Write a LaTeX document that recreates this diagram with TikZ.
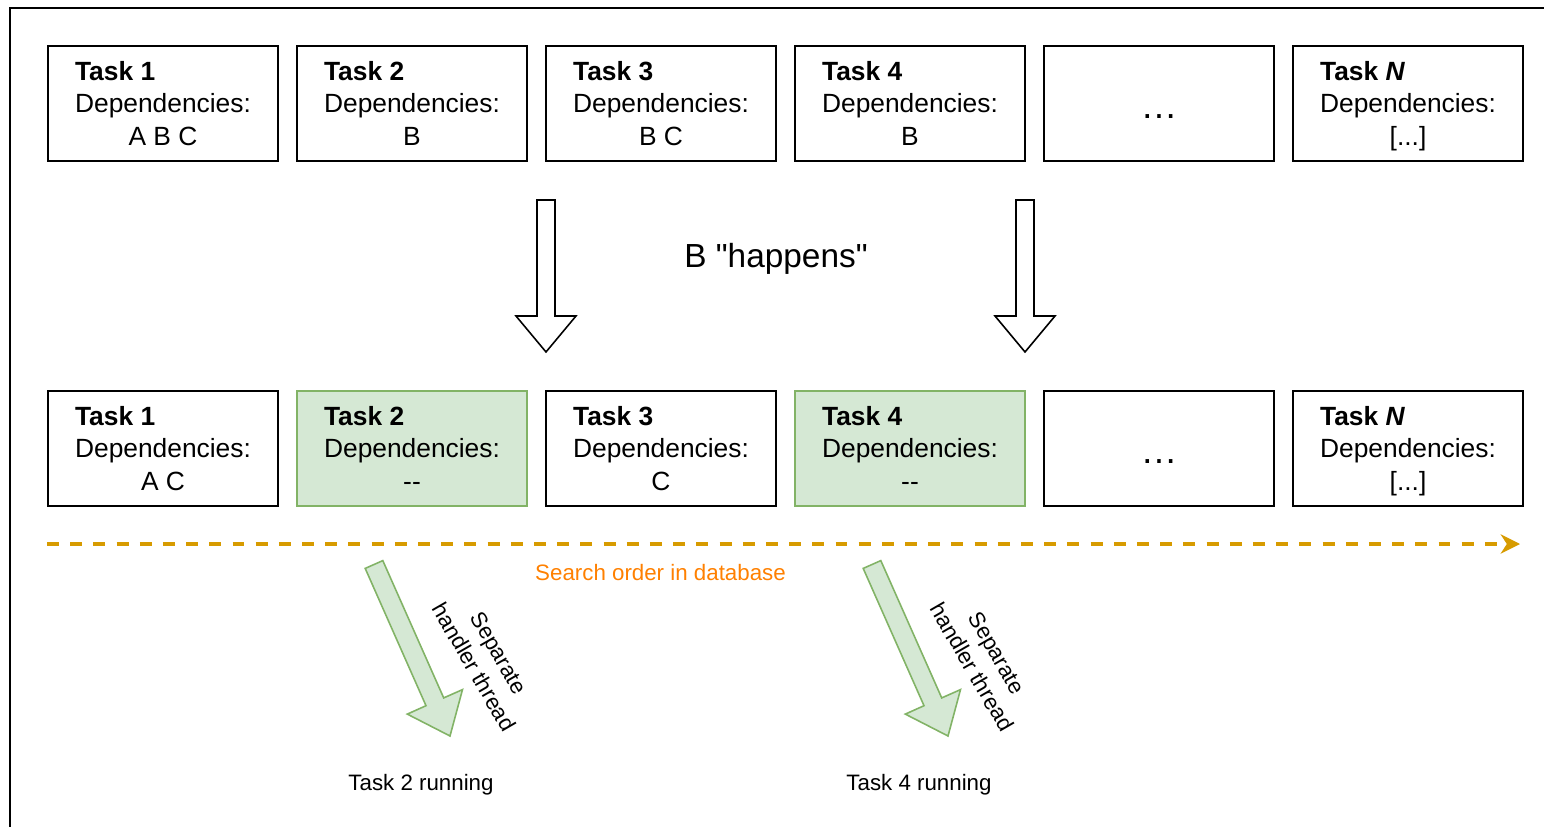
\documentclass[tikz,border=0pt]{standalone}
\usepackage{fontspec}
\setmainfont{Liberation Sans}
\usepackage{tikz}
\usetikzlibrary{arrows.meta, positioning}

\definecolor{greenfill}{HTML}{D5E8D4}
\definecolor{greenline}{HTML}{82B366}
\definecolor{searchline}{HTML}{D79B00}
\definecolor{searchtext}{HTML}{FF8000}

% three lines of a task box: name, label, centred dependency list
\newcommand{\TaskText}[2]{\raisebox{-1.7pt}[\height][\depth]{\begin{tabular}{@{}l@{}}\textbf{Task #1}\\Dependencies:\\\multicolumn{1}{@{}c@{}}{#2}\end{tabular}}}

\tikzset{
	task/.style={draw, line width=0.9pt, minimum width=4.6cm, minimum height=2.3cm, inner sep=0pt, font=\fontsize{15}{18.4}\selectfont},
	ready/.style={task, fill=greenfill, draw=greenline},
	more/.style={task, font=\fontsize{21}{25}\selectfont, text height=17pt, text depth=0pt},
	small/.style={font=\fontsize{12.7}{16.3}\selectfont},
}

\begin{document}
\begin{tikzpicture}[x=0.02cm, y=-0.02cm]
				\useasboundingbox (0,0) rectangle (1544,827);
				\draw[line width=0.9pt] (1544,8) -- (10,8) -- (10,827);
				
				\node[task] (T1) at (163,103.5) {\TaskText{1}{A B C}};
				\node[task] (T2) at (412,103.5) {\TaskText{2}{B}};
				\node[task] (T3) at (661,103.5) {\TaskText{3}{B C}};
				\node[task] (T4) at (910,103.5) {\TaskText{4}{B}};
				\node[more] (T5) at (1159,103.5) {…};
				\node[task] (TN) at (1408,103.5) {\TaskText{\textit{N}}{[...]}};
				
				\node[task] (S1) at (163,448.5) {\TaskText{1}{A C}};
				\node[ready] (S2) at (412,448.5) {\TaskText{2}{-{}-}};
				\node[task] (S3) at (661,448.5) {\TaskText{3}{C}};
				\node[ready] (S4) at (910,448.5) {\TaskText{4}{-{}-}};
				\node[more] (S5) at (1159,448.5) {…};
				\node[task] (SN) at (1408,448.5) {\TaskText{\textit{N}}{[...]}};
				
				%%%%%%%%%%%%%%%%%%%%%%%%%%%%%%
				
				\foreach \x in {546,1025}
				\draw[line width=0.9pt, fill=white] (\x-9,200) -- (\x+9,200) -- (\x+9,316) -- (\x+30,316) -- (\x,352) -- (\x-30,316) -- (\x-9,316) -- cycle;
				\node[font=\fontsize{19}{23}\selectfont, anchor=base] (happens) at (776,267.7) {B \textquotedbl happens\textquotedbl};
				
				\coordinate (first) at (47,544);
				\coordinate (last) at (1520,544);
				\draw[searchline, line width=2pt, dash pattern=on 6.8pt off 6.4pt, -{Stealth[length=11pt, width=11pt, inset=3.5pt]}] (first) -- (last);
				\node[small, text=searchtext, anchor=base] (order) at (660.5,580) {Search order in database};
				
				\foreach \dx in {0,498}
				\draw[greenline, fill=greenfill, line width=0.9pt, shift={(\dx,0)}] (365.2,568.4) -- (426.0,705.7) -- (407.3,714.1) -- (450,736) -- (462.5,689.6) -- (443.7,697.9) -- (382.8,560.6) -- cycle;
				
				\node[small, rotate=-60, align=center] (thread2) at (486.5,660) {Separate\\handler thread};
				\node[small, rotate=-60, align=center] (thread4) at (984.5,660) {Separate\\handler thread};
				\node[small, anchor=base] (run2) at (421,790.7) {Task 2 running};
				\node[small, anchor=base] (run4) at (919,790.7) {Task 4 running};
				
			\end{tikzpicture}
\end{document}
